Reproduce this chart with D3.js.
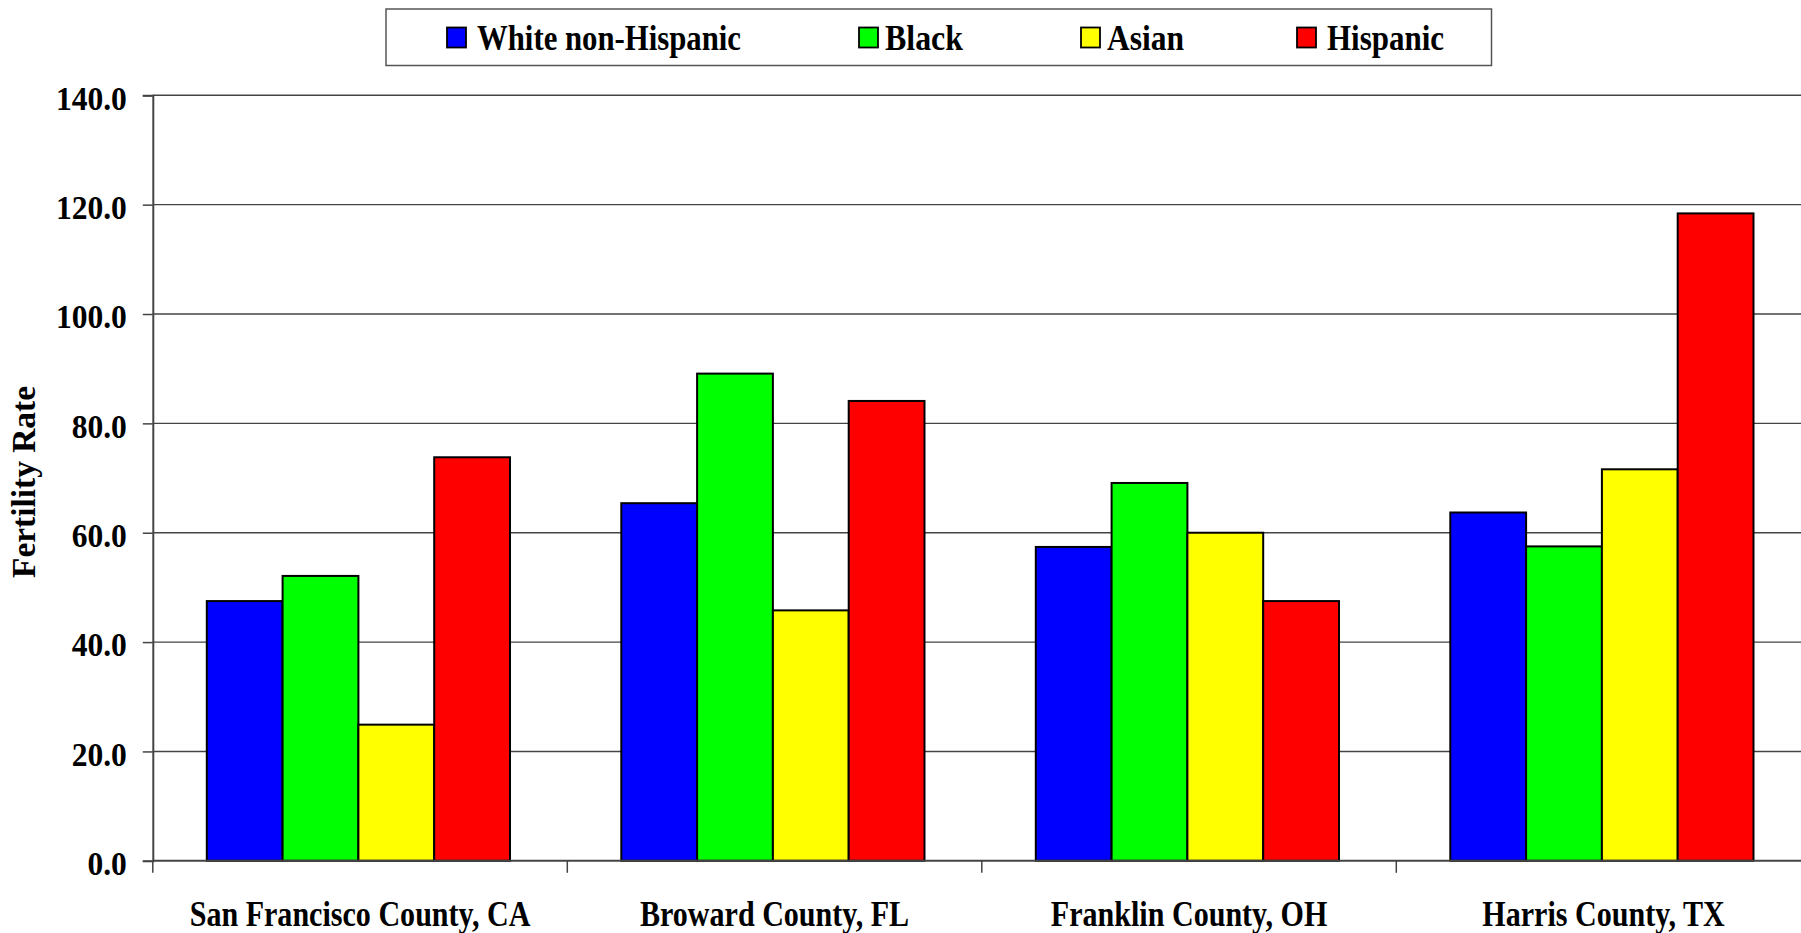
<!DOCTYPE html>
<html>
<head>
<meta charset="utf-8">
<script src="https://cdn.jsdelivr.net/npm/d3@7/dist/d3.min.js"></script>
<style>
  html, body { margin: 0; padding: 0; background: #fff; }
  svg { display: block; }
  text { font-family: "Liberation Serif", "Times New Roman", serif; font-weight: bold; fill: #000; }
</style>
</head>
<body>
<svg id="chart" width="1801" height="933"></svg>
<script>
// ---- data ----
const categories = ["San Francisco County, CA", "Broward County, FL", "Franklin County, OH", "Harris County, TX"];
const seriesNames = ["White non-Hispanic", "Black", "Asian", "Hispanic"];
const whiteNonHispanic = [47.5, 65.4, 57.4, 63.7];
const black = [52.1, 89.1, 69.1, 57.5];
const asian = [24.9, 45.8, 60.0, 71.6];
const hispanic = [73.8, 84.1, 47.5, 118.4];
const yTicks = [0, 20, 40, 60, 80, 100, 120, 140];
const yTitle = "Fertility Rate";
const colors = ["#0000FF", "#00FF00", "#FFFF00", "#FF0000"];

const seriesValues = [whiteNonHispanic, black, asian, hispanic];

// ---- layout ----
const svg = d3.select("#chart");
const plotLeft = 152.8, bandW = 414.5;
const plotTop = 95.3, plotBottom = 860.8;

const x0 = d3.scaleBand().domain(categories).range([plotLeft, plotLeft + bandW * categories.length]).paddingInner(0).paddingOuter(0);
const x1 = d3.scaleBand().domain(seriesNames).range([54, 54 + 303.2]).padding(0);
const y = d3.scaleLinear().domain([0, 140]).range([plotBottom, plotTop]);

svg.append("rect").attr("width", 1801).attr("height", 933).attr("fill", "#fff");

function squeeze(sel, ratio) {
  sel.each(function () {
    const w = this.getComputedTextLength();
    d3.select(this).attr("textLength", w * ratio).attr("lengthAdjust", "spacingAndGlyphs");
  });
}

// gridlines
svg.append("g").selectAll("line").data(yTicks.filter(d => d > 0)).join("line")
  .attr("x1", plotLeft).attr("x2", plotLeft + bandW * 4)
  .attr("y1", d => y(d)).attr("y2", d => y(d))
  .attr("stroke", "#444").attr("stroke-width", 1.4);

// bars
const groups = svg.append("g").selectAll("g").data(categories).join("g")
  .attr("transform", d => `translate(${x0(d)},0)`);
groups.selectAll("rect").data((c, ci) => seriesNames.map((s, si) => ({ s, si, v: seriesValues[si][ci] })))
  .join("rect")
  .attr("x", d => x1(d.s)).attr("width", x1.bandwidth())
  .attr("y", d => y(d.v)).attr("height", d => y(0) - y(d.v))
  .attr("fill", d => colors[d.si])
  .attr("stroke", "#000").attr("stroke-width", 2);

// y axis
const yAxis = svg.append("g").attr("transform", `translate(${plotLeft},0)`)
  .call(d3.axisLeft(y).tickValues(yTicks).tickFormat(d3.format(".1f")).tickSize(10).tickPadding(16));
yAxis.select(".domain").attr("stroke", "#444").attr("stroke-width", 2);
yAxis.selectAll(".tick line").attr("stroke", "#444").attr("stroke-width", 1.5);
yAxis.selectAll(".tick text")
  .style("font-family", '"Liberation Serif", "Times New Roman", serif')
  .style("font-weight", "bold").style("font-size", "33px").attr("fill", "#000")
  .attr("dy", "0.42em");
squeeze(yAxis.selectAll(".tick text"), 0.955);

// x axis baseline and category separators
const xAxis = svg.append("g").attr("transform", `translate(0,${plotBottom})`);
xAxis.append("line").attr("x1", plotLeft).attr("x2", plotLeft + bandW * 4).attr("y1", 0).attr("y2", 0)
  .attr("stroke", "#444").attr("stroke-width", 2);
xAxis.selectAll("line.sep").data(categories.concat(["end"])).join("line").attr("class", "sep")
  .attr("x1", (d, i) => plotLeft + bandW * i).attr("x2", (d, i) => plotLeft + bandW * i)
  .attr("y1", 0).attr("y2", 12).attr("stroke", "#444").attr("stroke-width", 1.5);
const catLabels = xAxis.selectAll("text.cat").data(categories).join("text").attr("class", "cat")
  .attr("x", d => x0(d) + x0.bandwidth() / 2).attr("y", 65)
  .attr("text-anchor", "middle").style("font-size", "36px").text(d => d);
squeeze(catLabels, 0.835);

// y title
const yt = svg.append("text")
  .attr("transform", "translate(35,482) rotate(-90)")
  .attr("text-anchor", "middle").style("font-size", "33px").text(yTitle);
yt.attr("textLength", 192).attr("lengthAdjust", "spacingAndGlyphs");

// legend
const legend = svg.append("g");
legend.append("rect").attr("x", 386).attr("y", 9).attr("width", 1105.5).attr("height", 56.5)
  .attr("fill", "#fff").attr("stroke", "#555").attr("stroke-width", 1.5);
const legendSwatchX = [447, 859, 1081, 1297];
const legendTextX = [477, 885, 1107, 1327];
const legendTextW = [264, 78, 77, 117];
const items = legend.selectAll("g.item").data(seriesNames).join("g").attr("class", "item");
items.append("rect")
  .attr("x", (d, i) => legendSwatchX[i]).attr("y", 27.5).attr("width", 19).attr("height", 20)
  .attr("fill", (d, i) => colors[i]).attr("stroke", "#000").attr("stroke-width", 1.8);
items.append("text")
  .attr("x", (d, i) => legendTextX[i]).attr("y", 50)
  .style("font-size", "36px").text(d => d)
  .attr("textLength", (d, i) => legendTextW[i]).attr("lengthAdjust", "spacingAndGlyphs");
</script>
</body>
</html>
